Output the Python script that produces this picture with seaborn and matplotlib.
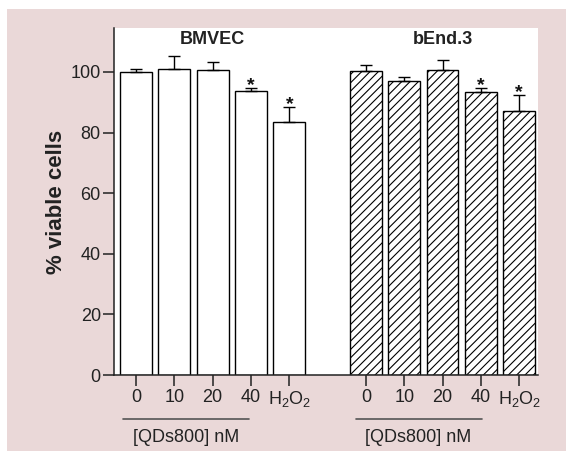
import pandas as pd
import matplotlib
matplotlib.use("Agg")
import matplotlib.pyplot as plt
from matplotlib.patches import Rectangle
import seaborn as sns

# Values (% viable cells, mean and upper error)
doses = ["0", "10", "20", "40", "H$_2$O$_2$"]
bmvec_mean = [100.0, 101.0, 100.8, 93.8, 83.6]
bmvec_err = [0.9, 4.3, 2.4, 0.9, 4.7]
bend_mean = [100.2, 97.0, 100.5, 93.3, 87.1]
bend_err = [2.0, 1.2, 3.5, 1.4, 5.2]
bmvec_sig = [False, False, False, True, True]
bend_sig = [False, False, False, True, True]
groups = ["BMVEC", "bEnd.3"]

sns.set_style("ticks")
plt.rcParams["font.family"] = ["Liberation Sans", "DejaVu Sans"]
plt.rcParams["mathtext.fontset"] = "custom"
plt.rcParams["mathtext.rm"] = "Liberation Sans"
plt.rcParams["mathtext.it"] = "Liberation Sans"
plt.rcParams["mathtext.bf"] = "Liberation Sans:bold"
plt.rcParams["hatch.linewidth"] = 0.8

# Long table, unique key per bar, one empty slot between the two groups
keys_a = ["A" + str(i) for i in range(5)]
keys_b = ["B" + str(i) for i in range(5)]
order = keys_a + ["gap"] + keys_b
df = pd.DataFrame({
    "key": keys_a + keys_b,
    "value": bmvec_mean + bend_mean,
    "err": bmvec_err + bend_err,
    "sig": bmvec_sig + bend_sig,
    "group": [groups[0]] * 5 + [groups[1]] * 5,
})

fig = plt.figure(figsize=(5.66, 4.51), dpi=100, facecolor="white")
fig.add_artist(Rectangle((7 / 566, 0), 1, 1 - 9 / 451, transform=fig.transFigure,
                         facecolor="#ead8d8", edgecolor="none", zorder=-10))
ax = fig.add_axes([114 / 566, 1 - 375 / 451, 424 / 566, 347 / 451])
ax.set_facecolor("white")

sns.barplot(data=df, x="key", y="value", order=order, color="white",
            edgecolor="black", linewidth=1.0, width=0.83, errorbar=None,
            saturation=1, ax=ax)

for p in ax.patches:
    p.set_facecolor("white")
    if p.get_x() + p.get_width() / 2 > 5:
        p.set_hatch("////")

pos = [order.index(k) for k in df["key"]]
ax.errorbar(pos, df["value"], yerr=[[0] * len(df), df["err"]], fmt="none",
            ecolor="black", elinewidth=1.0, capsize=4.3, capthick=1.0, zorder=1)

for x, v, e, s in zip(pos, df["value"], df["err"], df["sig"]):
    if s:
        ax.text(x, v + e - 0.7, "*", ha="center", va="baseline",
                fontsize=14, fontweight="bold", color="#111111")

# group titles
ax.text(2, 109.3, groups[0], ha="center", va="baseline", fontsize=13,
        fontweight="bold", color="#222222")
ax.text(8, 109.3, groups[1], ha="center", va="baseline", fontsize=13,
        fontweight="bold", color="#222222")

ax.set_xlim(-0.574, 10.49)
ax.set_ylim(0, 114.5)
ax.set_yticks([0, 20, 40, 60, 80, 100])
ax.set_xticks([i for i in range(11) if i != 5])
ax.set_xticklabels(doses + doses)
ax.tick_params(axis="both", labelsize=13, length=8, width=1.1,
               colors="#222222", pad=2)
ax.tick_params(axis="y", pad=1.5)
ax.set_xlabel("")
ax.set_ylabel("% viable cells", fontsize=16, fontweight="bold", color="#222222")
ax.yaxis.set_label_coords(-0.111, 0.5)

sns.despine(ax=ax)
for side in ["left", "bottom"]:
    ax.spines[side].set_linewidth(1.1)
    ax.spines[side].set_color("#222222")

# concentration brackets under each group
trans = ax.get_xaxis_transform()
for x0, x1, xc in [(-0.347, 2.958, 1.305), (5.73, 9.03, 7.37)]:
    ax.plot([x0, x1], [-0.127, -0.127], color="#555555", lw=1.2,
            transform=trans, clip_on=False)
    ax.text(xc, -0.1795, "[QDs800] nM", ha="center", va="center",
            fontsize=13, color="#222222", transform=trans)

fig.savefig("out.png", dpi=100)
